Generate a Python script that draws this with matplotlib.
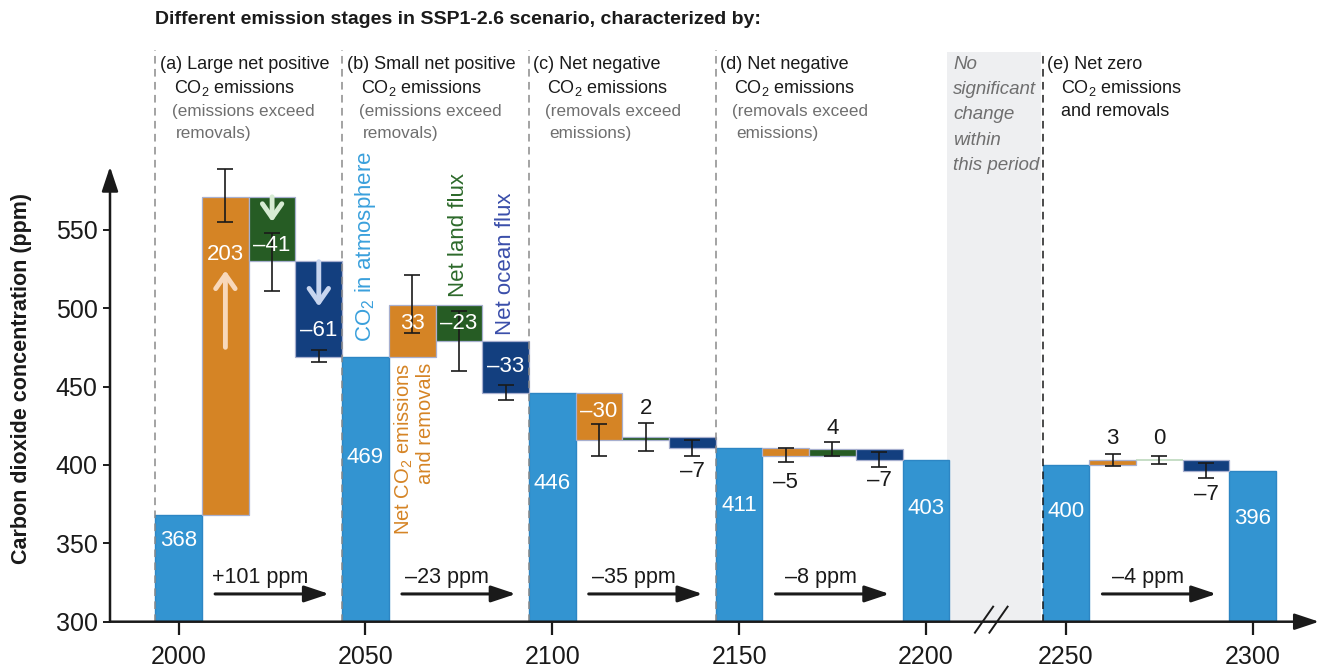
import matplotlib
matplotlib.use("Agg")
import matplotlib.pyplot as plt

plt.rcParams['font.family'] = ['Liberation Sans Narrow', 'Liberation Sans', 'DejaVu Sans']
plt.rcParams['mathtext.fontset'] = 'custom'
plt.rcParams['mathtext.rm'] = 'Liberation Sans'
plt.rcParams['mathtext.it'] = 'Liberation Sans:italic'

# CO2 in atmosphere at the start/end of each period (ppm)
years = [2000, 2050, 2100, 2150, 2200, 2250, 2300]
co2_atm = [368, 469, 446, 411, 403, 400, 396]

# contributions within each period (ppm)
net_emis = [203, 33, -30, -5, 3]
land_flux = [-41, -23, 2, 4, 0]
ocean_flux = [-61, -33, -7, -7, -7]

# uncertainty ranges (ppm, low/high) at the end of each flux bar
emis_lo = [555, 484, 406, 402, 399]
emis_hi = [589, 521, 426, 411, 407]
land_lo = [511, 460, 409, 405.5, 400.5]
land_hi = [548, 498, 427, 414.5, 406]
ocean_lo = [465.5, 441.5, 406, 398.5, 391.5]
ocean_hi = [473, 451, 416, 408.5, 401]

# which atmosphere bars open / close each period
period_start = [0, 1, 2, 3, 5]
period_end = [1, 2, 3, 4, 6]

headers = [
    ["(a) Large net positive", "CO$_2$ emissions", "(emissions exceed", "removals)"],
    ["(b) Small net positive", "CO$_2$ emissions", "(emissions exceed", "removals)"],
    ["(c) Net negative", "CO$_2$ emissions", "(removals exceed", "emissions)"],
    ["(d) Net negative", "CO$_2$ emissions", "(removals exceed", "emissions)"],
    ["(e) Net zero", "CO$_2$ emissions", "and removals", ""],
]
gap_note = ["No", "significant", "change", "within", "this period"]

# layout
bar_pos = [0, 4, 8, 12, 16, 19, 23]
atm_label_y = [352, 405, 388, 374, 372, 370, 366]
emis_label_y = [534, 490, 434, 389, 417]
land_label_y = [540, 490, 436, 423, 417]
ocean_label_y = [486, 463, 396, 390, 381]

c_blue = '#3394d1'
c_orange = '#d58425'
c_green = '#265c24'
c_navy = '#133f7f'
c_edge = '#a7afcf'
c_text = '#1a1a1a'

W, H = 1319, 671
fig = plt.figure(figsize=(W / 100, H / 100), dpi=100)
ax = fig.add_axes([110 / W, 49.3 / H, 1209 / W, 455 / H])
ax.set_xlim(-1.471, 24.418)
ax.set_ylim(300, 590.2)
for s in ax.spines.values():
    s.set_visible(False)

top_ppm = 664.5

# gap period shading
ax.add_patch(plt.Rectangle((16.45, 300), 2.01, 663.3 - 300, facecolor='#eeeff1',
                           edgecolor='none', zorder=0, clip_on=False))
for j, line in enumerate(gap_note):
    ax.text(16.58, 655.6 - j * 16.2, line, style='italic', color='#6f6f6f',
            fontsize=13.5, va='center', ha='left')

# atmosphere bars
ax.bar(bar_pos, [v - 300 for v in co2_atm], bottom=300, width=1, color=c_blue,
       edgecolor='#2d86c4', linewidth=1, zorder=2)
for p, v, ly in zip(bar_pos, co2_atm, atm_label_y):
    ax.text(p, ly, str(v), color='white', fontsize=16, ha='center', va='center', zorder=5)


def fmt(v):
    return str(v).replace('-', '\u2013')


for i, (s, e) in enumerate(zip(period_start, period_end)):
    p0 = bar_pos[s]
    level = co2_atm[s]
    fluxes = [(net_emis[i], emis_lo[i], emis_hi[i], emis_label_y[i], c_orange),
              (land_flux[i], land_lo[i], land_hi[i], land_label_y[i], c_green),
              (ocean_flux[i], ocean_lo[i], ocean_hi[i], ocean_label_y[i], c_navy)]
    for k, (v, lo, hi, ly, col) in enumerate(fluxes):
        x = p0 + 1 + k
        if v == 0:
            ax.hlines(level, x - 0.5, x + 0.5, color='#bcd8bc', lw=1.2, zorder=2)
        else:
            ax.bar(x, v, bottom=level, width=1, color=col, edgecolor=c_edge,
                   linewidth=0.9, zorder=2)
        level += v
        ax.errorbar(x, level, yerr=[[level - lo], [hi - level]], fmt='none',
                    ecolor=c_text, elinewidth=1.2, capsize=6, capthick=1.2, zorder=4)
        tc = 'white' if abs(v) >= 20 else c_text
        ax.text(x, ly, fmt(v), color=tc, fontsize=16, ha='center', va='center', zorder=5)

    # change over the period
    change = co2_atm[e] - co2_atm[s]
    sign = '+' if change > 0 else ''
    ax.text(p0 + 1.75, 328.5, sign + fmt(change) + " ppm", fontsize=15.5,
            ha='center', va='center', color=c_text)
    ax.annotate('', xy=(p0 + 3.22, 317.7), xytext=(p0 + 0.78, 317.7),
                arrowprops=dict(arrowstyle='-|>,head_length=0.6,head_width=0.2',
                                color=c_text, lw=2.2, mutation_scale=25,
                                shrinkA=0, shrinkB=0))

    # period boundary and header
    dash_col = c_text if i == 4 else '#8a8a8a'
    ax.plot([p0 - 0.5, p0 - 0.5], [300, top_ppm if i < 4 else 663.3], ls=(0, (5, 3.5)),
            color=dash_col, lw=1.1, zorder=3, clip_on=False)
    hx = p0 - 0.5 + 4.5 / 46.7
    offs = [0, 14, 12, 16] if i < 4 else [0, 14, 14, 0]
    hy = [655.5, 640.5, 625.6, 611.6]
    for j, line in enumerate(headers[i]):
        gray = (j >= 2 and i < 4)
        ax.text(hx + offs[j] / 46.7, hy[j], line, fontsize=12.3 if gray else 13,
                color='#6f6f6f' if gray else c_text, ha='left', va='center')

# arrows inside the first period's bars
arrow_kw = dict(arrowstyle='->,head_length=0.5,head_width=0.35', lw=3.5,
                mutation_scale=20, shrinkA=0, shrinkB=0)
ax.annotate('', xy=(1, 524), xytext=(1, 475), arrowprops=dict(color='#f8d8bb', **arrow_kw),
            zorder=5)
ax.annotate('', xy=(2, 555), xytext=(2, 571), arrowprops=dict(color='#d7ecd3', **arrow_kw),
            zorder=5)
ax.annotate('', xy=(3, 501), xytext=(3, 529.6), arrowprops=dict(color='#c7d5ef', **arrow_kw),
            zorder=5)

# series labels
ax.text(4, 478.4, "CO$_2$ in atmosphere", rotation=90, color='#3aa0dc', fontsize=16,
        ha='center', va='bottom')
ax.text(5.04, 465, "Net CO$_2$ emissions\nand removals", rotation=90, color=c_orange,
        fontsize=14.5, ha='center', va='top', multialignment='right', linespacing=1.05)
ax.text(6, 507.3, "Net land flux", rotation=90, color='#2d6a2b', fontsize=16,
        ha='center', va='bottom')
ax.text(7, 482.8, "Net ocean flux", rotation=90, color='#3a4eaa', fontsize=16,
        ha='center', va='bottom')

# axes with arrow heads
axis_kw = dict(arrowstyle='-|>,head_length=0.6,head_width=0.2', color=c_text, lw=1.8,
               mutation_scale=25, shrinkA=0, shrinkB=0)
ax.annotate('', xy=(0, 1), xytext=(0, 0), xycoords='axes fraction', arrowprops=axis_kw)
ax.annotate('', xy=(1, 0), xytext=(0, 0), xycoords='axes fraction', arrowprops=axis_kw)

# axis break marks
for bx in (17.05, 17.36):
    ax.plot([bx, bx + 0.39], [293, 309.6], color=c_text, lw=1.4, clip_on=False, zorder=6)

ax.set_xticks(bar_pos)
ax.set_xticklabels([str(y) for y in years])
ax.set_yticks(range(300, 551, 50))
ax.tick_params(axis='x', direction='out', length=9, width=1.6, labelsize=18, pad=8,
               colors=c_text)
ax.tick_params(axis='y', direction='out', length=5, width=1.4, labelsize=18, pad=4,
               colors=c_text)

fig.text(155 / W, 1 - 20 / H, "Different emission stages in SSP1-2.6 scenario, characterized by:",
         fontsize=14, fontweight='bold', ha='left', va='center', color=c_text)
fig.text(22 / W, 1 - 378 / H, "Carbon dioxide concentration (ppm)", rotation=90,
         fontsize=15.5, fontweight='bold', ha='center', va='center', color=c_text)

fig.savefig("out.png", dpi=100)
